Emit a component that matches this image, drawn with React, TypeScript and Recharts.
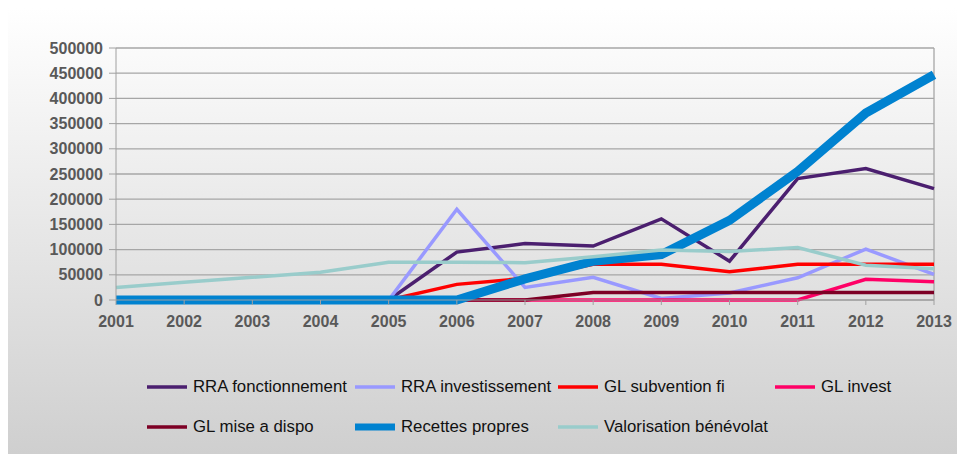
import React from "react";
import { LineChart, Line, XAxis, YAxis, CartesianGrid, Legend, ReferenceLine } from "recharts";

const years = ["2001", "2002", "2003", "2004", "2005", "2006", "2007", "2008", "2009", "2010", "2011", "2012", "2013"];
const rraFonctionnement = [0, 0, 0, 0, 0, 95000, 112000, 107000, 161000, 77000, 241000, 261000, 221000];
const rraInvestissement = [0, 0, 0, 0, 0, 180000, 25000, 45000, 3000, 14000, 44000, 101000, 51000];
const glSubventionFi = [0, 0, 0, 0, 0, 31000, 43000, 71000, 71000, 56000, 71000, 71000, 71000];
const glInvest = [0, 0, 0, 0, 0, 0, 0, 0, 0, 0, 0, 41000, 36000];
const glMiseADispo = [0, 0, 0, 0, 0, 0, 0, 15000, 15000, 15000, 15000, 15000, 15000];
const recettesPropres = [0, 0, 0, 0, 0, 0, 42000, 77000, 90000, 158000, 255000, 371000, 447000];
const valorisationBenevolat = [25000, 35000, 45000, 55000, 75000, 75000, 74000, 86000, 99000, 96000, 104000, 69000, 62000];
const yTicks = [0, 50000, 100000, 150000, 200000, 250000, 300000, 350000, 400000, 450000, 500000];

const series = [
  { key: "rraF", name: "RRA fonctionnement", values: rraFonctionnement, color: "#4b1f6f", width: 3.5 },
  { key: "rraI", name: "RRA investissement", values: rraInvestissement, color: "#9999ff", width: 3.5 },
  { key: "glS", name: "GL subvention fi", values: glSubventionFi, color: "#ff0000", width: 3.5 },
  { key: "glI", name: "GL invest", values: glInvest, color: "#ff0066", width: 3.5 },
  { key: "glM", name: "GL mise a dispo", values: glMiseADispo, color: "#7d0025", width: 3.5 },
  { key: "rec", name: "Recettes propres", values: recettesPropres, color: "#0082d0", width: 9 },
  { key: "val", name: "Valorisation bénévolat", values: valorisationBenevolat, color: "#99cccb", width: 3.5 },
];

const data = years.map((y, i) => {
  const row: Record<string, any> = { year: y };
  series.forEach((s) => (row[s.key] = s.values[i]));
  return row;
});

const FONT = "'Liberation Sans', Arial, sans-serif";
const legendCols = [139, 347, 550, 767];
const legendRows = [19, 59];

const LegendContent = () => (
  <div style={{ position: "relative", width: 949, height: 80, fontFamily: FONT }}>
    {series.map((s, i) => {
      const col = i % 4;
      const row = Math.floor(i / 4);
      return (
        <div
          key={s.key}
          style={{
            position: "absolute",
            left: legendCols[col],
            top: legendRows[row] - 10,
            height: 20,
            display: "flex",
            alignItems: "center",
            whiteSpace: "nowrap",
          }}
        >
          <svg width={40} height={20} style={{ display: "block" }}>
            <line x1={0} x2={40} y1={10} y2={10} stroke={s.color} strokeWidth={s.width > 5 ? 7 : 3.5} />
          </svg>
          <span style={{ marginLeft: 6, fontSize: 16.8, color: "#111" }}>{s.name}</span>
        </div>
      );
    })}
  </div>
);

export default function App() {
  return (
    <div
      style={{
        position: "absolute",
        left: 8,
        top: 8,
        width: 949,
        height: 446,
        background: "linear-gradient(#ffffff, #cfcfcf)",
      }}
    >
      <LineChart width={949} height={446} data={data} margin={{ top: 40, right: 23, left: 0, bottom: 44 }}>
        <CartesianGrid horizontal vertical={false} stroke="#a6a6a6" strokeWidth={1.3} />
        <XAxis
          dataKey="year"
          height={30}
          tickSize={5}
          tickMargin={11}
          stroke="#a0a0a0"
          tick={{ fill: "#595959", fontSize: 16, fontWeight: "bold", fontFamily: FONT }}
          interval={0}
        />
        <YAxis
          width={108}
          domain={[0, 500000]}
          ticks={yTicks}
          tickSize={7}
          tickMargin={6}
          stroke="#a0a0a0"
          interval={0}
          tick={{ fill: "#595959", fontSize: 16, fontWeight: "bold", fontFamily: FONT }}
        />
        <ReferenceLine x="2013" stroke="#a6a6a6" strokeWidth={1.3} />
        <Legend
          verticalAlign="bottom"
          content={<LegendContent />}
          wrapperStyle={{ position: "absolute", top: 360, left: 0, width: 949, height: 80 }}
        />
        {series.map((s) => (
          <Line
            key={s.key}
            type="linear"
            dataKey={s.key}
            name={s.name}
            stroke={s.color}
            strokeWidth={s.width}
            dot={false}
            activeDot={false}
            isAnimationActive={false}
            strokeLinejoin="miter"
          />
        ))}
      </LineChart>
    </div>
  );
}
